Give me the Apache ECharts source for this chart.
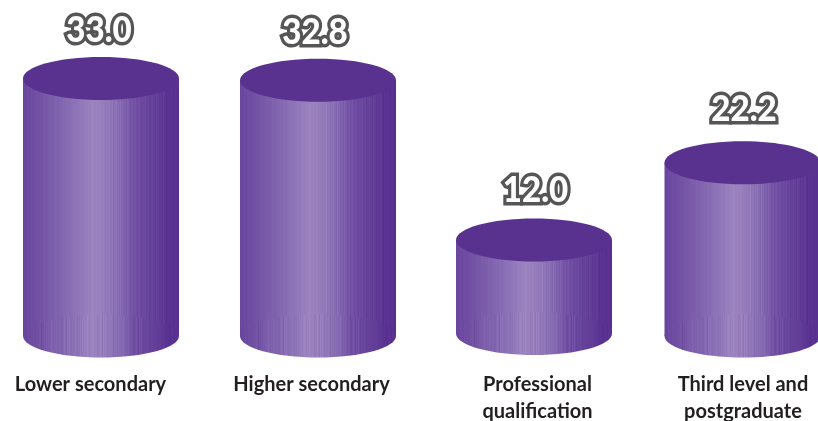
<!DOCTYPE html>
<html><head><meta charset="utf-8">
<style>html,body{margin:0;padding:0;background:#fff}#c{width:818px;height:421px}</style>
<script src="https://cdn.jsdelivr.net/npm/echarts@6/dist/echarts.min.js"></script>
</head><body><div id="c"></div>
<script>
const categories = ['Lower secondary', 'Higher secondary', 'Professional\nqualification', 'Third level and\npostgraduate'];
const values = [33.0, 32.8, 12.0, 22.2];

// Small per-cylinder adjustments (the source's columns are not evenly spaced)
const nudgeX = [0, 0.5, 0, -8];
const nudgeBase = [0, 0, -2.5, 0];
const labelDX = [-2, -3, 1.5, 1.5];
const labelDY = [-48.5, -47.5, -49.5, -53.5];
const axisShift = [-10.5, -6, 3.5, -7.5];

const W = 156, RY = 21.5;
const shade = [[0,[104,70,158]],[0.12,[116,84,165]],[0.3,[136,110,180]],[0.45,[156,132,192]],[0.58,[140,115,182]],[0.72,[112,78,163]],[0.85,[98,62,152]],[0.93,[90,50,146]],[1,[88,48,144]]];
const pat = [0,1,-1,0,2,0,-1,1,1,0,-2,1,0,0,2,-1,0,1,-2,0,0,1,0,0,-1,2,0,1,-1,0,0,-1,2,1,0,-2];
function base(t){
  for(let i=1;i<shade.length;i++){ if(t<=shade[i][0]){
    const a=shade[i-1],b=shade[i],k=(t-a[0])/(b[0]-a[0]);
    return a[1].map((v,j)=>v+(b[1][j]-v)*k);
  }}
  return shade[shade.length-1][1];
}
function striped(amp, from, to, step){
  const stops=[], n=156;
  for(let i=0;i<n;i++){
    const t=i/n, inZone=t>=from&&t<=to;
    const q=pat[(i*step)%pat.length];
    const d=inZone?q*amp:q*amp*0.35;
    const c=base(t).map(v=>Math.max(0,Math.min(255,Math.round(v+d))));
    const col='rgb('+c.join(',')+')';
    stops.push({offset:t,color:col},{offset:(i+1)/n,color:col});
  }
  return new echarts.graphic.LinearGradient(0,0,1,0,stops);
}
const sideFill=striped(3,0.55,0.92,1);
const baseFill=striped(3.5,0.08,0.8,5);

function renderCyl(params, api){
  const i=params.dataIndex;
  const p0=api.coord([api.value(0),0]), p1=api.coord([api.value(0),api.value(1)]);
  const cx=p0[0]+nudgeX[i], yb=p0[1]+nudgeBase[i], yt=p1[1]+nudgeBase[i];
  return {type:'group',children:[
    {type:'rect',shape:{x:cx-W/2,y:yt,width:W,height:yb-yt},style:{fill:sideFill}},
    {type:'ellipse',shape:{cx:cx,cy:yb,rx:W/2,ry:RY},style:{fill:baseFill}},
    {type:'ellipse',shape:{cx:cx,cy:yt,rx:W/2,ry:RY},style:{fill:'#59318f'}},
    {type:'text',x:cx+labelDX[i],y:yt+labelDY[i],scaleX:0.92,style:{
      text:values[i].toFixed(1),fill:'#ffffff',stroke:'#555555',lineWidth:7,strokeFirst:true,
      font:'900 36px Lato, "Noto Sans", sans-serif',align:'center',verticalAlign:'middle'}}
  ]};
}

const rich={};
axisShift.forEach((s,i)=>{
  rich['c'+i]={fontFamily:'Lato, "Noto Sans", sans-serif',fontWeight:'bold',fontSize:20,color:'#231f20',lineHeight:27,
    padding:s>0?[0,0,0,2*s]:[0,-2*s,0,0]};
});

const chart=echarts.init(document.getElementById('c'),null,{renderer:'canvas'});
chart.setOption({
  animation:false,
  grid:{left:-7.25,width:866,top:24,height:312,outerBoundsMode:'none'},
  xAxis:{type:'category',data:categories,axisLine:{show:false},axisTick:{show:false},splitLine:{show:false},
    axisLabel:{interval:0,margin:35,hideOverlap:false,
      formatter:function(v,i){return v.split('\n').map(l=>'{c'+i+'|'+l+'}').join('\n');},rich:rich}},
  yAxis:{type:'value',min:0,max:40,show:false},
  series:[{type:'custom',renderItem:renderCyl,clip:false,data:values.map((v,i)=>[i,v]),encode:{x:0,y:1}}]
});
</script></body></html>
